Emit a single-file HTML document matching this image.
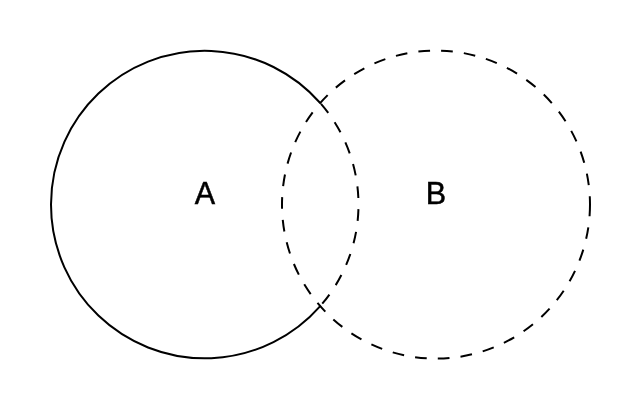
<!DOCTYPE html>
<html><head><meta charset="utf-8">
<style>
html,body{margin:0;padding:0;background:#fff;width:640px;height:408px;overflow:hidden}
svg{display:block}
text{font-family:"Liberation Sans",sans-serif;}
.t{opacity:0.999;will-change:transform;stroke:#000;stroke-width:0.5}
</style></head><body>
<svg width="640" height="408" viewBox="0 0 640 408">
<g fill="none" stroke="#000" stroke-width="2">
<!-- A dashed inside B -->
<path d="M320.21 103.02 A153.75 153.75 0 0 1 320.21 306.08" stroke-dasharray="11.7 11.13" stroke-dashoffset="-1.25"/>
<!-- A solid outside B: from upper intersection counterclockwise to lower intersection -->
<path d="M320.21 103.02 A153.75 153.75 0 1 0 320.21 306.08"/>
<!-- B dashed -->
<path d="M590 204.6 A154 154 0 0 1 282 204.6 A154 154 0 0 1 590 204.6" stroke-dasharray="11.7 11.13"/>
</g>
<g class="t"><text x="204.8" y="204" font-size="30.5" text-anchor="middle">A</text>
<text x="436" y="204" font-size="30.5" text-anchor="middle">B</text></g>
</svg>
</body></html>
